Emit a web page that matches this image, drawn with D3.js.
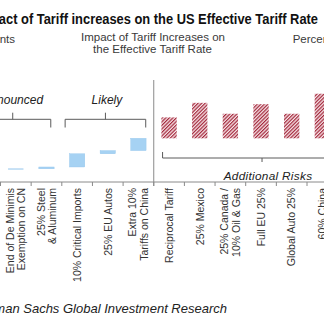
<!DOCTYPE html>
<html>
<head>
<meta charset="utf-8">
<script src="https://cdn.jsdelivr.net/npm/d3@7"></script>
<style>
  body { margin: 0; background: #fff; }
  svg { display: block; font-family: "Liberation Sans", Arial, sans-serif; }
</style>
</head>
<body>
<svg id="chart" width="324" height="321"></svg>
<script>
// ---- data -------------------------------------------------------------
// Tariff measures, in drawing order
const categories = [
  "deMinimis", "steelAlu", "criticalImports", "euAutos", "extraChina",
  "reciprocal", "mexico", "canada", "fullEU", "globalAuto", "china60"
];
// Axis labels ("\n" splits a label onto two lines)
const axisLabels = [
  "End of De Minimis\nExemption on CN",
  "25% Steel\n& Aluminum",
  "10% Critical Imports",
  "25% EU Autos",
  "Extra 10%\nTariffs on China",
  "Reciprocal Tariff",
  "25% Mexico",
  "25% Canada /\n10% Oil & Gas",
  "Full EU 25%",
  "Global Auto 25%",
  "60% China"
];
// Status of each measure
const status = [
  "announced", "announced", "likely", "likely", "likely",
  "risk", "risk", "risk", "risk", "risk", "risk"
];
// Increase in the effective tariff rate, percentage points
const increments = [0.05, 0.2, 1.45, 0.35, 1.35, 2.3, 3.9, 2.7, 3.75, 2.7, 4.9];
// Level already reached by the earlier announced measure (pp)
const priorLevel = 1.4;
// Groups for the brackets (category index range; -1 is the earlier measure)
const groupNames = ["Announced", "Likely", "Additional Risks"];
const groupFirst = [-1, 2, 5];
const groupLast = [1, 4, 11];

// ---- layout -----------------------------------------------------------
const W = 324, H = 321;
const axisY = 182;
const svg = d3.select("#chart");

const x = d3.scaleBand()
  .domain(categories)
  .range([0.5, 0.5 + 11 * 30.65])
  .paddingInner(0.5)
  .paddingOuter(0.25);
const step = x.step(), bw = x.bandwidth();
const centerAt = i => x(categories[0]) + bw / 2 + i * step;

const y = d3.scaleLinear().domain([0, 10]).range([axisY, axisY - 91]);

// waterfall: announced + likely measures stack; risks float on top of them
let level = priorLevel;
const bars = categories.map((c, i) => {
  let lo, hi;
  if (status[i] !== "risk") { lo = level; hi = level + increments[i]; level = hi; }
  else { lo = null; hi = null; }
  return { c, i, lo, hi, v: increments[i], status: status[i] };
});
const likelyLevel = level;
bars.forEach(b => { if (b.status === "risk") { b.lo = likelyLevel; b.hi = likelyLevel + b.v; } });

// hatch pattern for the risk bars
const defs = svg.append("defs");
const pat = defs.append("pattern")
  .attr("id", "hatch")
  .attr("patternUnits", "userSpaceOnUse")
  .attr("width", 2.5).attr("height", 10)
  .attr("patternTransform", "rotate(45)");
pat.append("rect").attr("width", 2.5).attr("height", 10).attr("fill", "#f7e3e6");
pat.append("rect").attr("width", 1.2).attr("height", 10).attr("fill", "#a3283c");

// ---- titles -----------------------------------------------------------
svg.append("text")
  .attr("x", -24).attr("y", 24)
  .attr("textLength", 342).attr("lengthAdjust", "spacingAndGlyphs")
  .attr("font-size", 14).attr("font-weight", "bold").attr("fill", "#111")
  .text("Impact of Tariff increases on the US Effective Tariff Rate");

const sub = svg.append("g").attr("fill", "#3a3a3a").attr("font-size", 11.5);
sub.append("text").attr("x", 153).attr("y", 40.5).attr("text-anchor", "middle")
  .attr("textLength", 144).attr("lengthAdjust", "spacing")
  .text("Impact of Tariff Increases on");
sub.append("text").attr("x", 152.5).attr("y", 53).attr("text-anchor", "middle")
  .attr("textLength", 119).attr("lengthAdjust", "spacing")
  .text("the Effective Tariff Rate");
sub.append("text").attr("x", 15).attr("y", 43).attr("text-anchor", "end")
  .text("Percentage Points");
sub.append("text").attr("x", 292.7).attr("y", 43).attr("text-anchor", "start")
  .text("Percentage Points");

// ---- bars -------------------------------------------------------------
svg.append("g").selectAll("rect")
  .data(bars.filter(b => b.status !== "risk"))
  .join("rect")
  .attr("x", d => x(d.c))
  .attr("width", bw)
  .attr("y", d => y(d.hi))
  .attr("height", d => y(d.lo) - y(d.hi))
  .attr("fill", "#a6d2f3")
  .attr("stroke", "#93c5ec").attr("stroke-width", 0.4);

svg.append("g").selectAll("rect")
  .data(bars.filter(b => b.status === "risk"))
  .join("rect")
  .attr("x", d => x(d.c))
  .attr("width", bw)
  .attr("y", d => y(d.hi))
  .attr("height", d => y(d.lo) - y(d.hi))
  .attr("fill", "url(#hatch)");

// ---- axis, ticks, divider -------------------------------------------------
const ax = svg.append("g").attr("stroke", "#8a8a8a").attr("stroke-width", 1);
ax.append("line").attr("x1", 0).attr("x2", W).attr("y1", axisY).attr("y2", axisY);
ax.selectAll("line.tick")
  .data(d3.range(0, categories.length + 1))
  .join("line").attr("class", "tick")
  .attr("x1", i => centerAt(i) - step / 2).attr("x2", i => centerAt(i) - step / 2)
  .attr("y1", axisY).attr("y2", axisY + 4);
const divX = centerAt(5) - step / 2;
ax.append("line").attr("x1", divX).attr("x2", divX).attr("y1", 80).attr("y2", axisY + 4);

// rotated category labels
const lab = svg.append("g").attr("font-size", 10.5).attr("fill", "#333");
axisLabels.forEach((t, i) => {
  const lines = t.split("\n");
  lines.forEach((ln, k) => {
    const off = (k - (lines.length - 1) / 2) * 11.5;
    const cx = centerAt(i) + off;
    lab.append("text")
      .attr("transform", `translate(${cx},${axisY + 6}) rotate(-90)`)
      .attr("text-anchor", "end")
      .attr("dy", "0.36em")
      .text(ln);
  });
});

// ---- group brackets --------------------------------------------------------
const insets = { "Announced": [10.5, 4.3], "Likely": [12, 7.3], "Additional Risks": [6.5, 8.5] };
const br = svg.append("g").attr("stroke", "#5a5a5a").attr("stroke-width", 1).attr("fill", "none");
const brText = svg.append("g").attr("font-style", "italic").attr("fill", "#222");
groupNames.forEach((g, k) => {
  const x0 = centerAt(groupFirst[k]) - insets[g][0];
  const x1 = centerAt(groupLast[k]) + insets[g][1];
  const xm = (x0 + x1) / 2;
  if (g !== "Additional Risks") {
    const ly = 119.3;
    br.append("path").attr("d", `M${x0},${ly + 8.2}V${ly}H${x1}V${ly + 8.2}M${xm},${ly}V${ly - 6.6}`);
    brText.append("text").attr("x", xm + (g === "Likely" ? 1.5 : 0)).attr("y", 103.5)
      .attr("text-anchor", "middle").attr("font-size", 12).text(g);
  } else {
    const ly = 158;
    br.append("path").attr("d", `M${x0},${ly - 6}V${ly}H${x1}V${ly - 6}M${xm},${ly}V${ly + 4}`);
    brText.append("text").attr("x", xm + 6).attr("y", 179.5)
      .attr("text-anchor", "middle").attr("font-size", 11.8)
      .attr("letter-spacing", 0.3).text(g);
  }
});

// ---- source ----------------------------------------------------------
svg.append("text")
  .attr("x", 227).attr("y", 313)
  .attr("text-anchor", "end")
  .attr("font-size", 13).attr("font-style", "italic").attr("fill", "#222")
  .text("Source: Goldman Sachs Global Investment Research");
</script>
</body>
</html>
